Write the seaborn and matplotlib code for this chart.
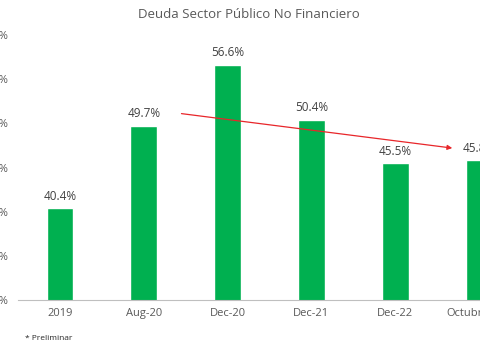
import matplotlib
matplotlib.use("Agg")
import matplotlib.pyplot as plt
import seaborn as sns
import pandas as pd
import numpy as np

categories = ["2019", "Aug-20", "Dec-20", "Dec-21", "Dec-22", "Octubre-23*"]
values = [40.4, 49.7, 56.6, 50.4, 45.5, 45.8]
value_labels = ["40.4%", "49.7%", "56.6%", "50.4%", "45.5%", "45.8%"]
yticks = [30, 35, 40, 45, 50, 55, 60]
ytick_labels = ["30%", "35%", "40%", "45%", "50%", "55%", "60%"]
arrow_x = [1.45, 4.68]
arrow_y = [51.1, 47.2]

sns.set_theme(style="white")
plt.rcParams["font.family"] = ["Open Sans", "DejaVu Sans"]

W, H = 480, 345
fig = plt.figure(figsize=(W / 100, H / 100), dpi=100)
left, right = 18, 521
bottom, top = 300, 35
ax = fig.add_axes([left / W, 1 - bottom / H, (right - left) / W, (bottom - top) / H])

df = pd.DataFrame({"cat": categories, "val": values})
sns.barplot(data=df, x="cat", y="val", color="#00B050", saturation=1,
            width=0.32, ax=ax, zorder=2)
ax.set_ylim(30, 60)
ax.set_xlim(-0.5, len(categories) - 0.5)
ax.set_xlabel("")
ax.set_ylabel("")
ax.set_yticks(yticks)
ax.set_yticklabels(ytick_labels, color="#595959", fontsize=8)
ax.tick_params(axis="y", length=0, pad=7)
ax.tick_params(axis="x", length=0, pad=6, labelsize=8, labelcolor="#595959")
ax.set_xticks(np.arange(-0.5, len(categories), 1.0), minor=True)
ax.tick_params(axis="x", which="minor", length=4, color="#BFBFBF", width=0.8, direction="out")
for s in ["top", "right", "left"]:
    ax.spines[s].set_visible(False)
ax.spines["bottom"].set_color("#BFBFBF")
ax.spines["bottom"].set_linewidth(0.8)

for i, (v, lab) in enumerate(zip(values, value_labels)):
    ax.annotate(lab, (i, v), xytext=(0, 4), textcoords="offset points",
                ha="center", va="bottom", fontsize=8.5, color="#404040")

ax.annotate("", xy=(arrow_x[1], arrow_y[1]), xytext=(arrow_x[0], arrow_y[0]),
            arrowprops=dict(arrowstyle="-|>", color="#E8262A", lw=0.9,
                            mutation_scale=7, shrinkA=0, shrinkB=0), zorder=5)

fig.text(249 / W, 1 - 14 / H, "Deuda Sector Público No Financiero",
         ha="center", va="center", fontsize=9.5, color="#595959")
fig.text(25 / W, 1 - 338 / H, "* Preliminar", ha="left", va="center",
         fontsize=6, color="#262626")

fig.savefig("out.png", dpi=100)
